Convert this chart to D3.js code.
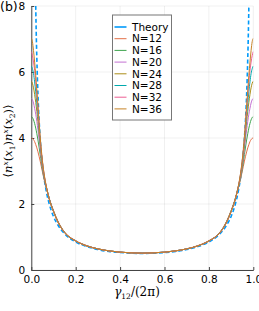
<!DOCTYPE html>
<html>
<head>
<meta charset="utf-8">
<script src="https://cdn.jsdelivr.net/npm/d3@7"></script>
<style>
  html, body { margin: 0; padding: 0; background: #fff; }
  svg { display: block; }
  text { font-family: "DejaVu Sans", sans-serif; fill: #000; }
</style>
</head>
<body>
<div id="app"></div>
<script>
// values
const xGrid = [0, 0.005, 0.01, 0.015, 0.02, 0.025, 0.03, 0.04, 0.05, 0.06, 0.07, 0.08, 0.10, 0.12, 0.15, 0.20, 0.25, 0.30, 0.35, 0.40, 0.45, 0.50,
  0.55, 0.60, 0.65, 0.70, 0.75, 0.80, 0.85, 0.88, 0.90, 0.92, 0.93, 0.94, 0.95, 0.96, 0.97, 0.975, 0.98, 0.985, 0.99, 0.995, 1.0];

const n12 = [4.00, 3.99, 3.95, 3.89, 3.80, 3.70, 3.58, 3.30, 2.98, 2.68, 2.43, 2.19, 1.80, 1.48, 1.15, 0.89, 0.74, 0.64, 0.58, 0.54, 0.52, 0.51,
  0.52, 0.54, 0.58, 0.64, 0.74, 0.89, 1.15, 1.48, 1.80, 2.19, 2.43, 2.68, 2.98, 3.30, 3.58, 3.70, 3.80, 3.89, 3.95, 3.99, 4.00];
const n16 = [4.65, 4.62, 4.55, 4.44, 4.30, 4.13, 3.94, 3.50, 3.05, 2.70, 2.44, 2.18, 1.79, 1.47, 1.14, 0.88, 0.73, 0.64, 0.58, 0.54, 0.52, 0.51,
  0.52, 0.54, 0.58, 0.64, 0.73, 0.88, 1.14, 1.47, 1.79, 2.18, 2.44, 2.70, 3.05, 3.50, 3.94, 4.13, 4.30, 4.44, 4.55, 4.62, 4.65];
const n20 = [5.20, 5.16, 5.06, 4.90, 4.72, 4.50, 4.25, 3.68, 3.13, 2.73, 2.45, 2.18, 1.78, 1.46, 1.14, 0.88, 0.73, 0.64, 0.58, 0.54, 0.52, 0.51,
  0.52, 0.54, 0.58, 0.64, 0.73, 0.88, 1.14, 1.46, 1.78, 2.18, 2.45, 2.73, 3.13, 3.68, 4.25, 4.50, 4.72, 4.90, 5.06, 5.16, 5.20];
const n24 = [5.72, 5.66, 5.52, 5.32, 5.08, 4.80, 4.50, 3.80, 3.20, 2.76, 2.45, 2.18, 1.78, 1.46, 1.14, 0.88, 0.73, 0.64, 0.58, 0.54, 0.52, 0.51,
  0.52, 0.54, 0.58, 0.64, 0.73, 0.88, 1.14, 1.46, 1.78, 2.18, 2.45, 2.76, 3.20, 3.80, 4.50, 4.80, 5.08, 5.32, 5.52, 5.66, 5.72];
const n28 = [6.18, 6.10, 5.95, 5.70, 5.40, 5.05, 4.70, 3.90, 3.25, 2.78, 2.45, 2.18, 1.77, 1.45, 1.13, 0.88, 0.73, 0.64, 0.58, 0.54, 0.52, 0.51,
  0.52, 0.54, 0.58, 0.64, 0.73, 0.88, 1.13, 1.45, 1.77, 2.18, 2.45, 2.78, 3.25, 3.90, 4.70, 5.05, 5.40, 5.70, 5.95, 6.10, 6.18];
const n32 = [6.62, 6.50, 6.30, 6.05, 5.70, 5.30, 4.85, 3.95, 3.28, 2.80, 2.45, 2.17, 1.77, 1.45, 1.13, 0.88, 0.73, 0.64, 0.58, 0.54, 0.52, 0.51,
  0.52, 0.54, 0.58, 0.64, 0.73, 0.88, 1.13, 1.45, 1.77, 2.17, 2.45, 2.80, 3.28, 3.95, 4.85, 5.30, 5.70, 6.05, 6.30, 6.50, 6.62];
const n36 = [7.02, 6.92, 6.65, 6.30, 5.90, 5.45, 5.00, 4.05, 3.32, 2.82, 2.46, 2.17, 1.77, 1.45, 1.13, 0.88, 0.73, 0.64, 0.58, 0.54, 0.52, 0.51,
  0.52, 0.54, 0.58, 0.64, 0.73, 0.88, 1.13, 1.45, 1.77, 2.17, 2.46, 2.82, 3.32, 4.05, 5.00, 5.45, 5.90, 6.30, 6.65, 6.92, 7.02];

const theoryX = [0.019, 0.022, 0.025, 0.03, 0.035, 0.04, 0.05, 0.06, 0.07, 0.08, 0.10, 0.12, 0.15, 0.20, 0.25, 0.30, 0.35, 0.40, 0.45, 0.50,
  0.55, 0.60, 0.65, 0.70, 0.75, 0.80, 0.85, 0.88, 0.90, 0.92, 0.93, 0.94, 0.95, 0.96, 0.965, 0.97, 0.975, 0.978, 0.981];
const theoryY = [8.4, 7.25, 6.4, 5.32, 4.56, 4.0, 3.2, 2.68, 2.3, 2.02, 1.62, 1.36, 1.1, 0.85, 0.71, 0.62, 0.56, 0.53, 0.51, 0.50,
  0.51, 0.53, 0.56, 0.62, 0.71, 0.85, 1.1, 1.36, 1.62, 2.02, 2.3, 2.68, 3.2, 4.0, 4.56, 5.32, 6.4, 7.25, 8.4];

const seriesNames = ["N=12", "N=16", "N=20", "N=24", "N=28", "N=32", "N=36"];
const seriesValues = [n12, n16, n20, n24, n28, n32, n36];
const colors = ["#009AFA", "#E36F47", "#3EA44E", "#C371D2", "#AC8E18", "#00A9AD", "#ED5E93", "#C68225"];

const xTicks = [0, 0.2, 0.4, 0.6, 0.8, 1.0];
const yTicks = [0, 2, 4, 6, 8];

const W = 259, H = 311;
const m = { left: 31.3, right: 253.3, top: 6, bottom: 270 };

const svg = d3.select("#app").append("svg").attr("width", W).attr("height", H);

const x = d3.scaleLinear().domain([0, 1]).range([m.left, m.right]);
const y = d3.scaleLinear().domain([0, 8]).range([m.bottom, m.top]);

// grid
const grid = svg.append("g").attr("stroke", "#000").attr("stroke-opacity", 0.1).attr("stroke-width", 0.6);
grid.selectAll("line.gx").data(xTicks).join("line")
  .attr("x1", d => x(d)).attr("x2", d => x(d)).attr("y1", m.top).attr("y2", m.bottom);
grid.selectAll("line.gy").data(yTicks).join("line")
  .attr("x1", m.left).attr("x2", m.right).attr("y1", d => y(d)).attr("y2", d => y(d));

// axes
const xAxis = svg.append("g").attr("transform", `translate(0,${m.bottom})`)
  .call(d3.axisBottom(x).tickValues(xTicks).tickFormat(d3.format(".1f")).tickSizeInner(-3).tickSizeOuter(0).tickPadding(6));
const yAxis = svg.append("g").attr("transform", `translate(${m.left},0)`)
  .call(d3.axisLeft(y).tickValues(yTicks).tickFormat(d3.format("d")).tickSizeInner(-3).tickSizeOuter(0).tickPadding(6));
[xAxis, yAxis].forEach(a => {
  a.select(".domain").attr("stroke", "#444").attr("stroke-width", 1);
  a.selectAll(".tick line").attr("stroke", "#444");
  a.selectAll("text").style("font-family", "DejaVu Sans").style("font-size", "10.5px").attr("fill", "#000");
});
xAxis.selectAll("text").attr("dy", "0.71em");

// curves
svg.append("defs").append("clipPath").attr("id", "clip")
  .append("rect").attr("x", m.left).attr("y", m.top).attr("width", m.right - m.left).attr("height", m.bottom - m.top);
const plot = svg.append("g").attr("clip-path", "url(#clip)");

const line = d3.line().x(d => x(d[0])).y(d => y(d[1])).curve(d3.curveMonotoneX);

plot.append("path")
  .attr("d", line(theoryX.map((v, i) => [v, theoryY[i]])))
  .attr("fill", "none").attr("stroke", colors[0]).attr("stroke-width", 1.6)
  .attr("stroke-dasharray", "4,2.5");

seriesValues.forEach((vals, k) => {
  plot.append("path")
    .attr("d", line(xGrid.map((v, i) => [v, vals[i]])))
    .attr("fill", "none").attr("stroke", colors[k + 1]).attr("stroke-width", 1);
});

// legend
const lg = svg.append("g");
lg.append("rect").attr("x", 112.5).attr("y", 15).attr("width", 59).attr("height", 105)
  .attr("fill", "#fff").attr("stroke", "#777").attr("stroke-width", 1);
const legendNames = ["Theory"].concat(seriesNames);
legendNames.forEach((name, i) => {
  const cy = 27 + i * 11.7;
  lg.append("line").attr("x1", 114.5).attr("x2", 126.5).attr("y1", cy).attr("y2", cy)
    .attr("stroke", colors[i]).attr("stroke-width", i === 0 ? 1.6 : 1);
  lg.append("text").attr("x", 132).attr("y", cy).attr("dy", "0.36em")
    .style("font-size", "10.5px").text(name);
});

// titles
svg.append("text").attr("x", 0).attr("y", 11).style("font-size", "12.5px").text("(b)");

const xl = svg.append("text").attr("x", 137).attr("y", 296).attr("text-anchor", "middle")
  .style("font-family", "DejaVu Serif").style("font-size", "12px");
xl.append("tspan").style("font-style", "italic").text("γ");
xl.append("tspan").attr("dy", 3).style("font-size", "7.5px").text("12");
xl.append("tspan").attr("dy", -3).text("/(2π)");

const yl = svg.append("text").attr("transform", "translate(12,141) rotate(-90)").attr("text-anchor", "middle")
  .style("font-family", "DejaVu Serif").style("font-size", "11.5px");
yl.append("tspan").text("⟨");
yl.append("tspan").style("font-style", "italic").text("n");
yl.append("tspan").attr("dy", -4).style("font-size", "7.5px").style("font-style", "italic").text("x");
yl.append("tspan").attr("dy", 4).text("(");
yl.append("tspan").style("font-style", "italic").text("x");
yl.append("tspan").attr("dy", 2.5).style("font-size", "7.5px").text("1");
yl.append("tspan").attr("dy", -2.5).text(")");
yl.append("tspan").style("font-style", "italic").text("n");
yl.append("tspan").attr("dy", -4).style("font-size", "7.5px").style("font-style", "italic").text("x");
yl.append("tspan").attr("dy", 4).text("(");
yl.append("tspan").style("font-style", "italic").text("x");
yl.append("tspan").attr("dy", 2.5).style("font-size", "7.5px").text("2");
yl.append("tspan").attr("dy", -2.5).text(")⟩");
</script>
</body>
</html>
